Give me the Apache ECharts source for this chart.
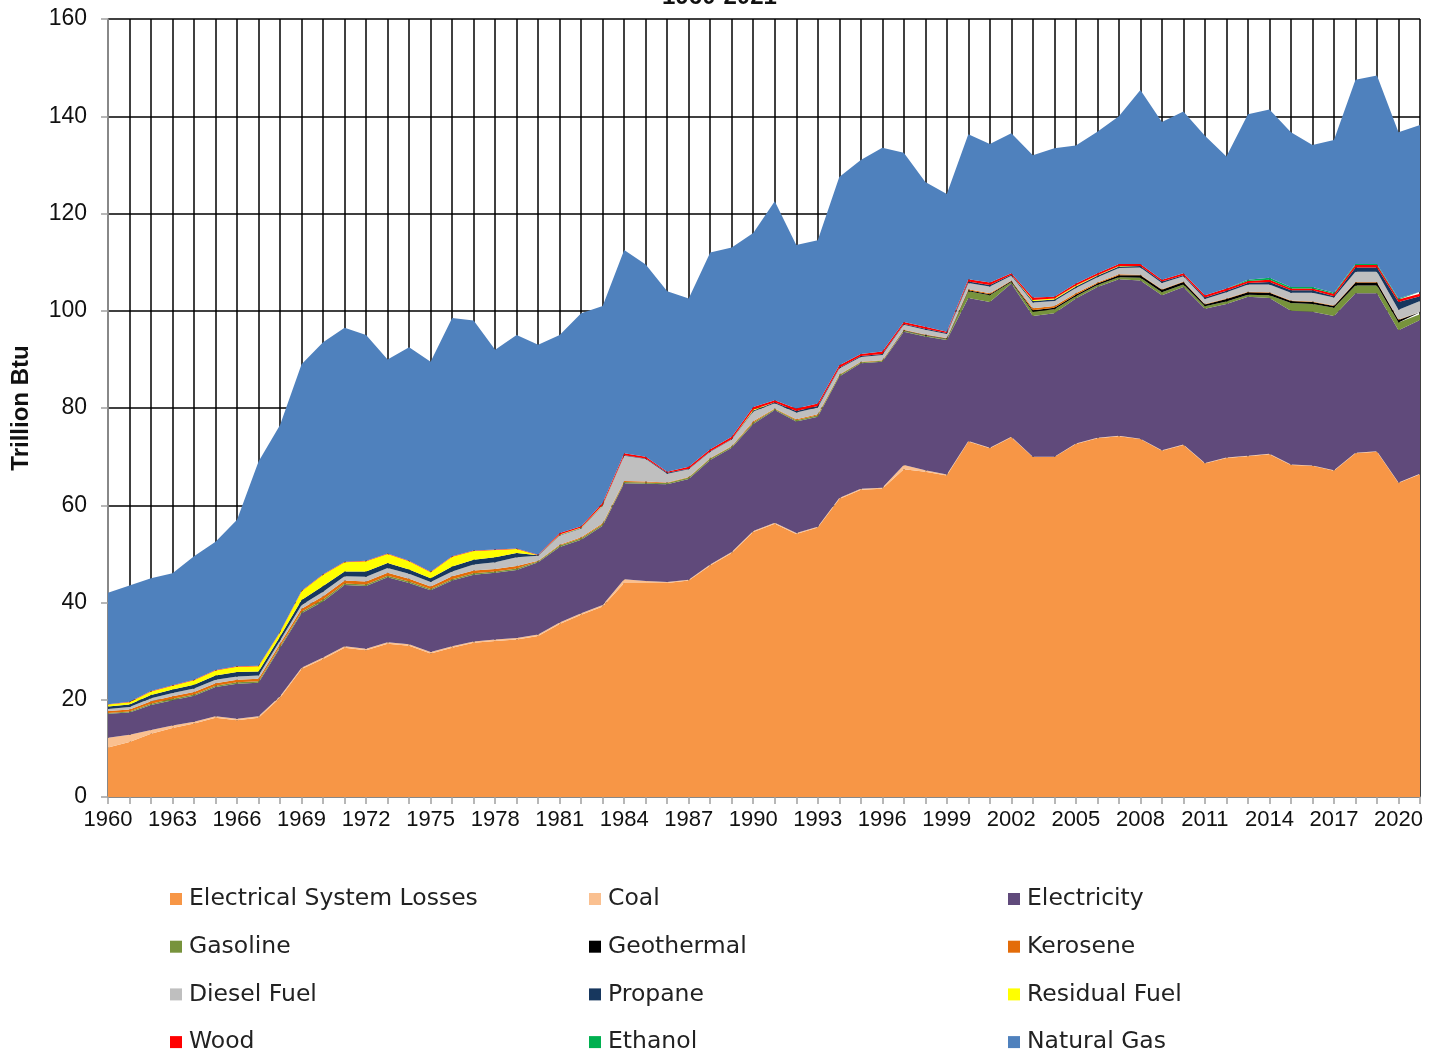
<!DOCTYPE html>
<html>
<head>
<meta charset="utf-8">
<title>1960-2021</title>
<script src="https://cdn.jsdelivr.net/npm/echarts@6/dist/echarts.min.js"></script>
<style>
    html, body { margin: 0; padding: 0; background: #fff; }
    #energy-chart { width: 1439px; height: 1055px; }
</style>
</head>
<body>
<div id="energy-chart"></div>
<script>
    "use strict";

    var years = [
        "1960", "1961", "1962", "1963", "1964", "1965", "1966", "1967", "1968", "1969",
        "1970", "1971", "1972", "1973", "1974", "1975", "1976", "1977", "1978", "1979",
        "1980", "1981", "1982", "1983", "1984", "1985", "1986", "1987", "1988", "1989",
        "1990", "1991", "1992", "1993", "1994", "1995", "1996", "1997", "1998", "1999",
        "2000", "2001", "2002", "2003", "2004", "2005", "2006", "2007", "2008", "2009",
        "2010", "2011", "2012", "2013", "2014", "2015", "2016", "2017", "2018", "2019",
        "2020", "2021"
    ];

    // 从下往上堆叠
    var electricalLosses = [
        10.2, 11.3, 13.0, 14.2, 15.1, 16.3, 15.8, 16.3, 20.4, 26.3,
        28.4, 30.7, 30.2, 31.5, 31.1, 29.5, 30.7, 31.7, 32.1, 32.4,
        33.1, 35.6, 37.5, 39.2, 44.0, 44.0, 44.0, 44.5, 47.6, 50.2,
        54.5, 56.2, 54.1, 55.4, 61.3, 63.2, 63.4, 67.4, 66.9, 66.1,
        73.1, 71.7, 74.0, 69.9, 69.9, 72.6, 73.8, 74.2, 73.6, 71.2,
        72.4, 68.6, 69.7, 70.1, 70.5, 68.3, 68.1, 67.1, 70.7, 71.0,
        64.6, 66.4
    ];
    var coal = [
        2.0, 1.5, 0.8, 0.5, 0.4, 0.3, 0.3, 0.3, 0.3, 0.3,
        0.3, 0.3, 0.3, 0.3, 0.3, 0.3, 0.3, 0.3, 0.3, 0.3,
        0.3, 0.3, 0.3, 0.3, 0.8, 0.4, 0.2, 0.2, 0.2, 0.2,
        0.2, 0.2, 0.2, 0.2, 0.2, 0.2, 0.2, 0.9, 0.3, 0.2,
        0.1, 0.1, 0.1, 0.1, 0.1, 0.1, 0.1, 0.1, 0.1, 0.1,
        0.1, 0.1, 0.1, 0.1, 0.1, 0.1, 0.1, 0.1, 0.1, 0.1,
        0.1, 0.1
    ];
    var electricity = [
        4.9, 4.6, 5.1, 5.2, 5.3, 6.0, 7.2, 6.9, 10.0, 11.2,
        11.5, 12.6, 12.9, 13.4, 12.6, 12.7, 13.5, 13.7, 13.7, 14.0,
        14.9, 15.5, 15.1, 16.3, 19.7, 20.0, 20.1, 20.7, 21.5, 21.4,
        22.0, 23.2, 22.9, 22.6, 25.0, 25.8, 25.9, 27.4, 27.5, 27.7,
        29.4, 30.0, 31.5, 28.9, 29.5, 29.8, 31.0, 32.2, 32.5, 31.9,
        32.4, 31.7, 31.6, 32.7, 32.0, 31.6, 31.6, 31.7, 32.8, 32.5,
        31.3, 31.6
    ];
    var gasoline = [
        0.2, 0.2, 0.3, 0.3, 0.3, 0.3, 0.3, 0.3, 0.3, 0.3,
        0.4, 0.3, 0.3, 0.3, 0.3, 0.3, 0.3, 0.3, 0.3, 0.3,
        0.2, 0.3, 0.3, 0.3, 0.3, 0.3, 0.3, 0.3, 0.3, 0.3,
        0.3, 0.2, 0.3, 0.3, 0.3, 0.2, 0.2, 0.2, 0.2, 0.2,
        1.4, 1.4, 0.3, 0.9, 0.8, 0.5, 0.4, 0.4, 0.6, 0.6,
        0.5, 0.5, 0.5, 0.4, 0.6, 1.6, 1.6, 1.7, 1.6, 1.6,
        1.6, 1.2
    ];
    var geothermal = [
        0, 0, 0, 0, 0, 0, 0, 0, 0, 0,
        0, 0, 0, 0, 0, 0, 0, 0, 0, 0,
        0, 0, 0, 0, 0, 0, 0, 0, 0, 0,
        0, 0, 0, 0, 0, 0, 0, 0.1, 0.1, 0.1,
        0.2, 0.2, 0.2, 0.3, 0.3, 0.3, 0.3, 0.4, 0.5, 0.5,
        0.5, 0.4, 0.5, 0.5, 0.5, 0.4, 0.4, 0.4, 0.6, 0.6,
        0.5, 0.4
    ];
    var kerosene = [
        0.4, 0.4, 0.5, 0.5, 0.5, 0.5, 0.5, 0.5, 0.5, 0.6,
        0.7, 0.6, 0.6, 0.6, 0.6, 0.5, 0.6, 0.6, 0.5, 0.5,
        0.1, 0.2, 0.2, 0.2, 0.2, 0.2, 0.1, 0.1, 0.1, 0.1,
        0.3, 0.1, 0.2, 0.2, 0.1, 0.1, 0.1, 0.1, 0.1, 0.1,
        0.2, 0.2, 0.1, 0.4, 0.4, 0.3, 0.2, 0.2, 0.1, 0.1,
        0.1, 0.1, 0.1, 0.1, 0.1, 0.1, 0.1, 0.1, 0.1, 0.1,
        0.1, 0.1
    ];
    var dieselFuel = [
        0.4, 0.5, 0.6, 0.7, 0.7, 0.7, 0.7, 0.7, 0.7, 0.8,
        0.9, 0.9, 1.0, 1.0, 1.0, 0.9, 1.0, 1.2, 1.4, 1.8,
        1.0, 1.9, 1.8, 3.6, 5.2, 4.6, 1.8, 1.6, 1.3, 1.3,
        2.0, 1.1, 1.4, 1.4, 1.2, 1.0, 1.1, 1.0, 1.0, 0.8,
        1.3, 1.4, 1.0, 1.2, 1.0, 1.1, 1.1, 1.3, 1.5, 1.3,
        1.1, 1.0, 1.3, 1.5, 1.6, 1.6, 1.8, 1.6, 2.1, 2.1,
        2.0, 2.2
    ];
    var propane = [
        0.5, 0.5, 0.7, 0.7, 0.8, 0.9, 0.9, 0.8, 0.8, 1.0,
        1.2, 1.0, 1.1, 1.0, 0.9, 0.8, 1.0, 1.0, 1.0, 0.9,
        0.1, 0.1, 0.1, 0.1, 0.1, 0.1, 0.2, 0.1, 0.1, 0.1,
        0.2, 0.2, 0.3, 0.3, 0.2, 0.2, 0.2, 0.2, 0.2, 0.2,
        0.3, 0.3, 0.2, 0.3, 0.3, 0.3, 0.3, 0.3, 0.3, 0.3,
        0.2, 0.3, 0.3, 0.3, 0.5, 0.5, 0.5, 0.3, 0.9, 0.9,
        1.6, 1.0
    ];
    var residualFuel = [
        0.4, 0.5, 0.7, 0.8, 0.9, 1.0, 1.1, 1.1, 0.9, 1.8,
        2.3, 1.9, 2.1, 1.9, 1.7, 1.2, 2.0, 1.8, 1.5, 0.8,
        0, 0.1, 0.1, 0.1, 0, 0, 0, 0, 0, 0,
        0.2, 0, 0, 0, 0, 0, 0, 0, 0, 0,
        0, 0, 0, 0.2, 0.2, 0.2, 0.1, 0.1, 0, 0,
        0, 0, 0, 0, 0, 0, 0, 0, 0, 0,
        0, 0
    ];
    var wood = [
        0.1, 0.1, 0.1, 0.1, 0.1, 0.1, 0.1, 0.1, 0.1, 0.1,
        0.1, 0.1, 0.1, 0.1, 0.1, 0.1, 0.1, 0.1, 0.1, 0.1,
        0.1, 0.3, 0.3, 0.4, 0.4, 0.4, 0.2, 0.4, 0.4, 0.5,
        0.5, 0.4, 0.5, 0.5, 0.5, 0.4, 0.5, 0.4, 0.4, 0.3,
        0.5, 0.5, 0.3, 0.5, 0.4, 0.4, 0.4, 0.4, 0.4, 0.4,
        0.4, 0.5, 0.5, 0.4, 0.5, 0.4, 0.4, 0.5, 0.5, 0.5,
        0.5, 0.5
    ];
    var ethanol = [
        0, 0, 0, 0, 0, 0, 0, 0, 0, 0,
        0, 0, 0, 0, 0, 0, 0, 0, 0, 0,
        0, 0, 0, 0, 0, 0, 0, 0, 0, 0,
        0, 0, 0, 0, 0, 0, 0, 0, 0, 0,
        0, 0, 0, 0, 0, 0, 0, 0, 0, 0,
        0, 0, 0, 0.3, 0.4, 0.3, 0.3, 0.2, 0.2, 0.2,
        0.2, 0.4
    ];
    var naturalGas = [
        22.9, 23.9, 23.2, 23.0, 25.4, 26.4, 30.1, 42.0, 42.5, 46.6,
        47.7, 48.1, 46.4, 39.9, 43.9, 43.2, 49.0, 47.3, 41.1, 43.9,
        43.2, 40.7, 43.8, 40.5, 41.8, 39.5, 37.1, 34.6, 40.5, 38.9,
        35.8, 40.9, 33.6, 33.6, 38.7, 39.9, 41.9, 34.8, 29.8, 28.3,
        29.8, 28.5, 28.8, 29.3, 30.5, 28.4, 29.1, 30.4, 35.8, 32.4,
        33.3, 32.8, 27.1, 34.0, 34.6, 31.8, 29.2, 31.4, 37.9, 38.8,
        34.2, 34.3
    ];

    var layers = [
        ["Electrical System Losses", electricalLosses, "#F79646"],
        ["Coal", coal, "#FAC090"],
        ["Electricity", electricity, "#604A7B"],
        ["Gasoline", gasoline, "#77933C"],
        ["Geothermal", geothermal, "#000000"],
        ["Kerosene", kerosene, "#E36C09"],
        ["Diesel Fuel", dieselFuel, "#BFBFBF"],
        ["Propane", propane, "#17375E"],
        ["Residual Fuel", residualFuel, "#FFFF00"],
        ["Wood", wood, "#FF0000"],
        ["Ethanol", ethanol, "#00B050"],
        ["Natural Gas", naturalGas, "#4F81BD"]
    ];

    var legendColumns = [
        ["Electrical System Losses", "Gasoline", "Diesel Fuel", "Wood"],
        ["Coal", "Geothermal", "Propane", "Ethanol"],
        ["Electricity", "Kerosene", "Residual Fuel", "Natural Gas"]
    ];
    var legendLeft = [170, 589, 1008];

    var series = layers.map(function(l) {
        return {
            name: l[0],
            type: "line",
            stack: "total",
            data: l[1],
            color: l[2],
            symbol: "none",
            showSymbol: false,
            lineStyle: { width: 0 },
            areaStyle: { color: l[2], opacity: 1 },
            itemStyle: { color: l[2] },
            emphasis: { disabled: true }
        };
    });

    var legends = legendColumns.map(function(col, i) {
        return {
            orient: "vertical",
            left: legendLeft[i],
            top: 887,
            padding: 0,
            itemGap: 23.7,
            itemWidth: 12,
            itemHeight: 12,
            icon: "rect",
            selectedMode: false,
            textStyle: {
                fontFamily: "DejaVu Sans",
                fontSize: 23.5,
                lineHeight: 24,
                padding: [0, 0, 0, 2],
                color: "#222"
            },
            data: col
        };
    });

    var chart = echarts.init(document.getElementById("energy-chart"));

    chart.setOption({
        animation: false,
        backgroundColor: "#fff",
        title: {
            text: "1960-2021",
            left: "center",
            top: -20,
            textStyle: {
                fontFamily: "Liberation Sans",
                fontSize: 24,
                fontWeight: "bold",
                color: "#111"
            }
        },
        legend: legends,
        grid: {
            left: 108,
            right: 19,
            top: 19,
            bottom: 258
        },
        xAxis: {
            type: "category",
            boundaryGap: false,
            data: years,
            axisLine: { lineStyle: { color: "#A0A0A0", width: 1.5 } },
            axisTick: {
                show: true,
                interval: 0,
                length: 7,
                lineStyle: { color: "#A0A0A0", width: 1.5 }
            },
            axisLabel: {
                interval: 2,
                margin: 12,
                fontFamily: "Liberation Sans",
                fontSize: 22,
                color: "#111"
            },
            splitLine: {
                show: true,
                interval: 0,
                lineStyle: { color: "#000", width: 1.5 }
            }
        },
        yAxis: {
            type: "value",
            min: 0,
            max: 160,
            interval: 20,
            name: "Trillion Btu",
            nameLocation: "middle",
            nameGap: 75,
            nameTextStyle: {
                fontFamily: "Liberation Sans",
                fontSize: 24,
                fontWeight: "bold",
                color: "#111"
            },
            axisLine: { show: true, lineStyle: { color: "#A0A0A0", width: 1.5 } },
            axisTick: { show: true, length: 7, lineStyle: { color: "#A0A0A0", width: 1.5 } },
            axisLabel: {
                margin: 21,
                fontFamily: "Liberation Sans",
                fontSize: 23,
                color: "#111"
            },
            splitLine: { lineStyle: { color: "#000", width: 1.5 } }
        },
        series: series
    });
</script>
</body>
</html>
